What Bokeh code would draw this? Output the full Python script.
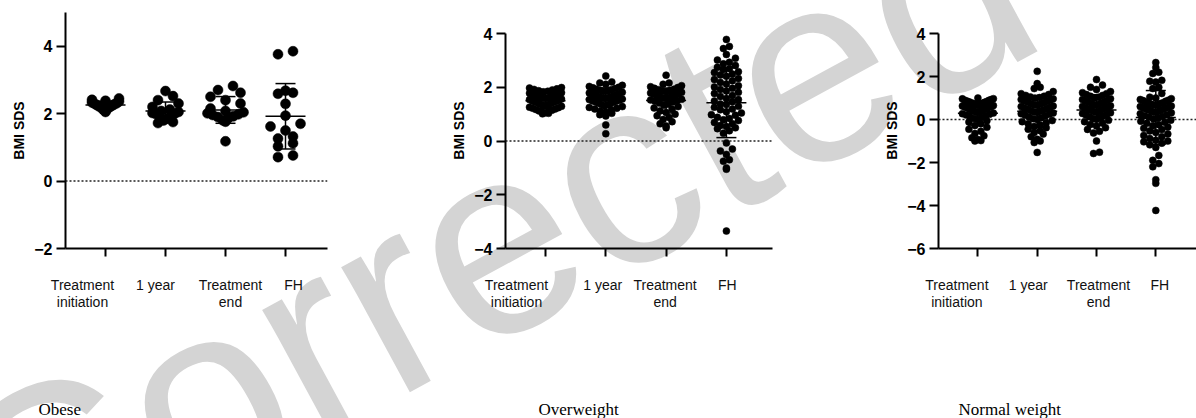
import math
from bokeh.plotting import figure
from bokeh.models import Span, FixedTicker, ColumnDataSource, LinearAxis
from bokeh.layouts import row
from bokeh.embed import file_html
from bokeh.resources import INLINE
from bokeh.core.properties import value

# ---------------- data ----------------
categories = ["Treatment\ninitiation", "1 year", "Treatment\nend", "FH"]
panel_names = ["Obese", "Overweight", "Normal weight"]
y_label = "BMI SDS"
watermark_text = "Corrected"

obese_init = [2.45, 2.41, 2.38, 2.36, 2.33, 2.31, 2.3, 2.28, 2.26, 2.24, 2.22, 2.2, 2.18, 2.15, 2.12, 2.08, 2.05]
obese_1y = [2.67, 2.52, 2.4, 2.3, 2.2, 2.12, 2.08, 2.05, 2.02, 2.0, 1.98, 1.95, 1.9, 1.85, 1.8, 1.75, 1.72]
obese_end = [2.82, 2.7, 2.62, 2.5, 2.4, 2.3, 2.15, 2.08, 2.04, 2.01, 1.98, 1.96, 1.92, 1.9, 1.86, 1.8, 1.76, 1.18]
obese_fh = [3.76, 3.85, 2.59, 2.62, 2.68, 2.29, 1.94, 1.62, 1.7, 1.5, 1.26, 1.32, 1.12, 1.03, 0.71, 0.76]

over_init = [1.99, 1.97, 1.94, 1.92, 1.9, 1.87, 1.85, 1.83, 1.8, 1.78, 1.76, 1.74, 1.71, 1.69, 1.67,
             1.65, 1.62, 1.6, 1.58, 1.56, 1.54, 1.52, 1.5, 1.48, 1.46, 1.44, 1.42, 1.4, 1.37, 1.35,
             1.33, 1.31, 1.29, 1.26, 1.24, 1.22, 1.19, 1.17, 1.14, 1.12, 1.1, 1.07, 1.05, 1.03, 1.01]
over_1y = [2.42, 2.2, 2.16, 2.11, 2.07, 2.03, 2.0, 1.98, 1.95, 1.93, 1.91, 1.88, 1.86, 1.84, 1.81,
           1.79, 1.77, 1.75, 1.72, 1.7, 1.68, 1.66, 1.64, 1.62, 1.6, 1.58, 1.56, 1.54, 1.52, 1.5,
           1.48, 1.46, 1.44, 1.41, 1.39, 1.36, 1.34, 1.31, 1.28, 1.25, 1.22, 1.19, 1.15, 1.11, 1.07,
           1.03, 0.98, 0.93, 0.6, 0.27]
over_end = [2.45, 2.16, 2.11, 2.06, 2.02, 1.99, 1.96, 1.93, 1.91, 1.88, 1.86, 1.83, 1.81, 1.79, 1.76,
            1.74, 1.72, 1.69, 1.67, 1.65, 1.62, 1.6, 1.58, 1.55, 1.53, 1.51, 1.48, 1.45, 1.41, 1.37,
            1.33, 1.28, 1.23, 1.18, 1.12, 1.06, 1.0, 0.94, 0.87, 0.8, 0.72, 0.64, 0.56, 0.49]
over_fh = [3.78, 3.52, 3.44, 3.22, 3.08, 3.01, 2.93, 2.87, 2.81, 2.74, 2.69, 2.66, 2.58, 2.55, 2.49,
           2.46, 2.41, 2.33, 2.29, 2.24, 2.18, 2.12, 2.06, 2.01, 1.96, 1.92, 1.86, 1.81, 1.77, 1.69,
           1.66, 1.58, 1.54, 1.49, 1.46, 1.38, 1.36, 1.29, 1.26, 1.19, 1.16, 1.09, 1.04, 0.98, 0.96,
           0.88, 0.84, 0.79, 0.76, 0.69, 0.64, 0.58, 0.54, 0.49, 0.46, 0.38, 0.29, -0.07, -0.3, -0.37,
           -0.5, -0.7, -0.75, -1.0, -1.05, -3.35]

normal_init = [1.0, 0.97, 0.96, 0.93, 0.9, 0.89, 0.86, 0.84, 0.82, 0.8, 0.78, 0.76, 0.74, 0.71, 0.69,
               0.67, 0.65, 0.63, 0.61, 0.6, 0.58, 0.56, 0.54, 0.52, 0.5, 0.48, 0.46, 0.44, 0.42, 0.4,
               0.37, 0.35, 0.33, 0.3, 0.27, 0.24, 0.21, 0.17, 0.13, 0.09, 0.05, 0.0, -0.06, -0.12, -0.2,
               -0.28, -0.36, -0.45, -0.55, -0.65, -0.76, -0.85, -0.93, -0.98, -1.0]
normal_1y = [2.24, 1.67, 1.5, 1.44, 1.3, 1.2, 1.16, 1.12, 1.08, 1.05, 1.02, 0.99, 0.96, 0.93, 0.9,
             0.87, 0.84, 0.81, 0.78, 0.75, 0.72, 0.69, 0.66, 0.63, 0.6, 0.57, 0.54, 0.51, 0.48, 0.45,
             0.42, 0.39, 0.36, 0.33, 0.3, 0.27, 0.24, 0.2, 0.16, 0.12, 0.08, 0.04, 0.0, -0.05, -0.1,
             -0.15, -0.2, -0.26, -0.32, -0.38, -0.45, -0.52, -0.6, -0.68, -0.8, -0.92, -1.0, -1.07, -1.53]
normal_end = [1.86, 1.6, 1.5, 1.4, 1.3, 1.25, 1.2, 1.16, 1.12, 1.08, 1.04, 1.0, 0.97, 0.93, 0.9,
              0.86, 0.83, 0.8, 0.77, 0.73, 0.7, 0.67, 0.64, 0.61, 0.58, 0.55, 0.52, 0.49, 0.46, 0.43,
              0.4, 0.37, 0.34, 0.31, 0.28, 0.25, 0.21, 0.17, 0.13, 0.09, 0.05, 0.01, -0.04, -0.1, -0.16,
              -0.23, -0.3, -0.38, -0.46, -0.55, -0.63, -1.0, -1.52, -1.58]
normal_fh = [2.65, 2.42, 2.2, 2.14, 1.82, 1.78, 1.74, 1.5, 1.44, 1.21, 1.04, 1.0, 0.97, 0.93, 0.9,
             0.88, 0.85, 0.81, 0.78, 0.76, 0.74, 0.71, 0.69, 0.67, 0.63, 0.6, 0.57, 0.55, 0.53, 0.49,
             0.46, 0.44, 0.42, 0.38, 0.36, 0.34, 0.31, 0.27, 0.22, 0.18, 0.14, 0.1, 0.06, 0.02, -0.03,
             -0.08, -0.13, -0.18, -0.24, -0.29, -0.35, -0.41, -0.47, -0.53, -0.6, -0.67, -0.74, -0.8,
             -0.88, -0.96, -1.0, -1.04, -1.1, -1.18, -1.3, -1.67, -1.9, -2.05, -2.2, -2.8, -2.97, -4.23]

obese_ticks = [-2, 0, 2, 4]
over_ticks = [-4, -2, 0, 2, 4]
normal_ticks = [-6, -4, -2, 0, 2, 4]

# ---------------- layout / style ----------------
FIG_H = 418
TOP = 12         # frame top (page px) shared by all panels
FRAME_H = 236    # shared frame height
SANS = "Liberation Sans"
SERIF = "Liberation Serif"

panels = [
    dict(name=panel_names[0], groups=[obese_init, obese_1y, obese_end, obese_fh], ticks=obese_ticks,
         y_range=(-2, 5.0), bounds=(-2, 5.0), fig_x=0, width=430, left=65, frame_w=262,
         cat_px=60.0, first_tick_dx=40.0, dot=10, span=[27, 26, 36, 30], step=15,
         lab_dx=[-23, -10, 5, 8], cap_x=38),
    dict(name=panel_names[1], groups=[over_init, over_1y, over_end, over_fh], ticks=over_ticks,
         y_range=(-4, 4 + 21 / 26.875), bounds=(-4, 4), fig_x=430, width=450, left=75, frame_w=267,
         cat_px=60.3, first_tick_dx=40.0, dot=7, span=[32, 33, 31, 33], step=6,
         lab_dx=[-29, -3, -1, 1], cap_x=538),
    dict(name=panel_names[2], groups=[normal_init, normal_1y, normal_end, normal_fh], ticks=normal_ticks,
         y_range=(-6, 4 + 21 / 21.5), bounds=(-6, 4), fig_x=880, width=316, left=58, frame_w=258,
         cat_px=59.3, first_tick_dx=39.4, dot=7, span=[31, 32, 28, 31], step=6,
         lab_dx=[-21, -9, 2, 4], cap_x=958),
]

# watermark geometry (page pixels): centre of the letter "c", font size, angle
WM_SIZE = 270
WM_ANGLE = math.radians(28.5)
WM_C_CENTER = (585, 110)


def column_scatter(vals, ppu_y, row_h, max_span, step):
    """Column-scatter layout: points binned into rows and spread evenly across each row."""
    rows = {}
    for i, v in enumerate(vals):
        rows.setdefault(int(math.floor(v * ppu_y / row_h)), []).append(i)
    offs = [0.0] * len(vals)
    for idx in rows.values():
        k = len(idx)
        if k == 1:
            continue
        s = min(step, max_span / (k - 1))
        idx_sorted = sorted(idx, key=lambda i: vals[i])
        slots = sorted(range(k), key=lambda j: (abs(j - (k - 1) / 2), j))
        for i, j in zip(idx_sorted, slots):
            offs[i] = (j - (k - 1) / 2) * s
    return offs


def make_panel(cfg):
    y0, y1 = cfg["y_range"]
    ppu_y = FRAME_H / (y1 - y0)
    x_start = 1 - cfg["first_tick_dx"] / cfg["cat_px"]
    x_end = x_start + cfg["frame_w"] / cfg["cat_px"]
    # page-pixel position of the data point (1, 0), used as in-frame anchor
    ax_img = cfg["fig_x"] + cfg["left"] + cfg["first_tick_dx"]
    ay_img = TOP + y1 * ppu_y

    p = figure(width=cfg["width"], height=FIG_H, x_range=(x_start, x_end), y_range=(y0, y1),
               output_backend="svg", toolbar_location=None,
               min_border_left=cfg["left"], min_border_top=TOP,
               min_border_right=cfg["width"] - cfg["left"] - cfg["frame_w"],
               min_border_bottom=FIG_H - TOP - FRAME_H)
    p.outline_line_color = None
    p.grid.visible = False
    p.background_fill_color = "white"
    p.border_fill_color = "white"

    # watermark: anchored at (1, 0) and shifted in screen pixels
    cos_t, sin_t = math.cos(WM_ANGLE), math.sin(WM_ANGLE)
    along = 2.75 * WM_SIZE
    up = 0.26 * WM_SIZE
    ox = WM_C_CENTER[0] - along * cos_t + up * sin_t
    oy = WM_C_CENTER[1] + along * sin_t + up * cos_t
    p.text(x=[1], y=[0], text=[watermark_text], angle=WM_ANGLE,
           x_offset=ox - ax_img, y_offset=oy - ay_img,
           text_font=value(SANS), text_font_size=f"{WM_SIZE}px", text_color="#d4d4d4",
           text_align="left", text_baseline="alphabetic", level="guide")

    # zero line
    p.add_layout(Span(location=0, dimension="width", line_color="#222222",
                      line_dash="2 2", line_width=1.5))

    xs, ys = [], []
    bar_x0, bar_x1, bar_y0, bar_y1 = [], [], [], []
    for gi, vals in enumerate(cfg["groups"]):
        offs = column_scatter(vals, ppu_y, cfg["dot"], cfg["span"][gi], cfg["step"])
        xc = gi + 1
        xs += [xc + o / cfg["cat_px"] for o in offs]
        ys += list(vals)
        n = len(vals)
        m = sum(vals) / n
        sd = math.sqrt(sum((v - m) ** 2 for v in vals) / (n - 1))
        hw_mean = 20 / cfg["cat_px"]
        hw_cap = 10 / cfg["cat_px"]
        bar_x0 += [xc - hw_mean, xc - hw_cap, xc - hw_cap, xc]
        bar_x1 += [xc + hw_mean, xc + hw_cap, xc + hw_cap, xc]
        bar_y0 += [m, m + sd, m - sd, m - sd]
        bar_y1 += [m, m + sd, m - sd, m + sd]

    src = ColumnDataSource(dict(x=xs, y=ys))
    p.scatter("x", "y", source=src, size=cfg["dot"], color="black", line_color="black",
              line_width=0.5, level="overlay")
    p.segment(bar_x0, bar_y0, bar_x1, bar_y1, line_color="black", line_width=1.5, level="overlay")

    # axes
    for ax in (p.xaxis, p.yaxis):
        ax.axis_line_width = 2
        ax.axis_line_color = "black"
        ax.major_tick_line_width = 2
        ax.major_tick_line_color = "black"
        ax.major_tick_in = 0
        ax.minor_tick_line_color = None
    p.yaxis.ticker = FixedTicker(ticks=cfg["ticks"])
    p.yaxis.bounds = cfg["bounds"]
    p.yaxis.major_tick_out = 9
    p.yaxis.major_label_standoff = 4
    p.yaxis.major_label_text_font = SANS
    p.yaxis.major_label_text_font_style = "bold"
    p.yaxis.major_label_text_font_size = "16px"
    p.yaxis.major_label_text_color = "black"
    p.yaxis.axis_label = y_label
    p.yaxis.axis_label_text_font = SANS
    p.yaxis.axis_label_text_font_style = "bold"
    p.yaxis.axis_label_text_font_size = "14px"
    p.yaxis.axis_label_text_color = "black"
    p.yaxis.axis_label_standoff = 4

    p.xaxis.ticker = FixedTicker(ticks=[1, 2, 3, 4])
    p.xaxis.major_tick_out = 8
    p.xaxis.major_label_overrides = {1: "", 2: "", 3: "", 4: ""}
    p.xaxis.major_label_text_font_size = "1px"
    p.xaxis.major_label_standoff = 0

    # category names: a second axis below, without line or ticks
    lab_pos = [gi + 1 + cfg["lab_dx"][gi] / cfg["cat_px"] for gi in range(len(categories))]
    cat_axis = LinearAxis(ticker=FixedTicker(ticks=lab_pos),
                          major_label_overrides={pos: cat for pos, cat in zip(lab_pos, categories)},
                          axis_line_color=None, major_tick_line_color=None,
                          minor_tick_line_color=None, major_tick_in=0, major_tick_out=0,
                          major_label_standoff=20,
                          major_label_text_font=SANS, major_label_text_font_size="14px",
                          major_label_text_color="#111111", major_label_text_align="center",
                          major_label_text_baseline="top", major_label_text_line_height=1.1)
    p.add_layout(cat_axis, "below")

    # panel caption, anchored at (1, 0) and shifted in screen pixels
    p.text(x=[1], y=[0], text=[cfg["name"]], x_offset=cfg["cap_x"] - ax_img,
           y_offset=409 - ay_img, text_font=value(SERIF), text_font_size="17px",
           text_color="black", text_align="left", text_baseline="alphabetic", level="overlay")
    return p


figs = [make_panel(c) for c in panels]
layout = row(*figs)
open("out.html", "w").write(file_html(layout, INLINE))
